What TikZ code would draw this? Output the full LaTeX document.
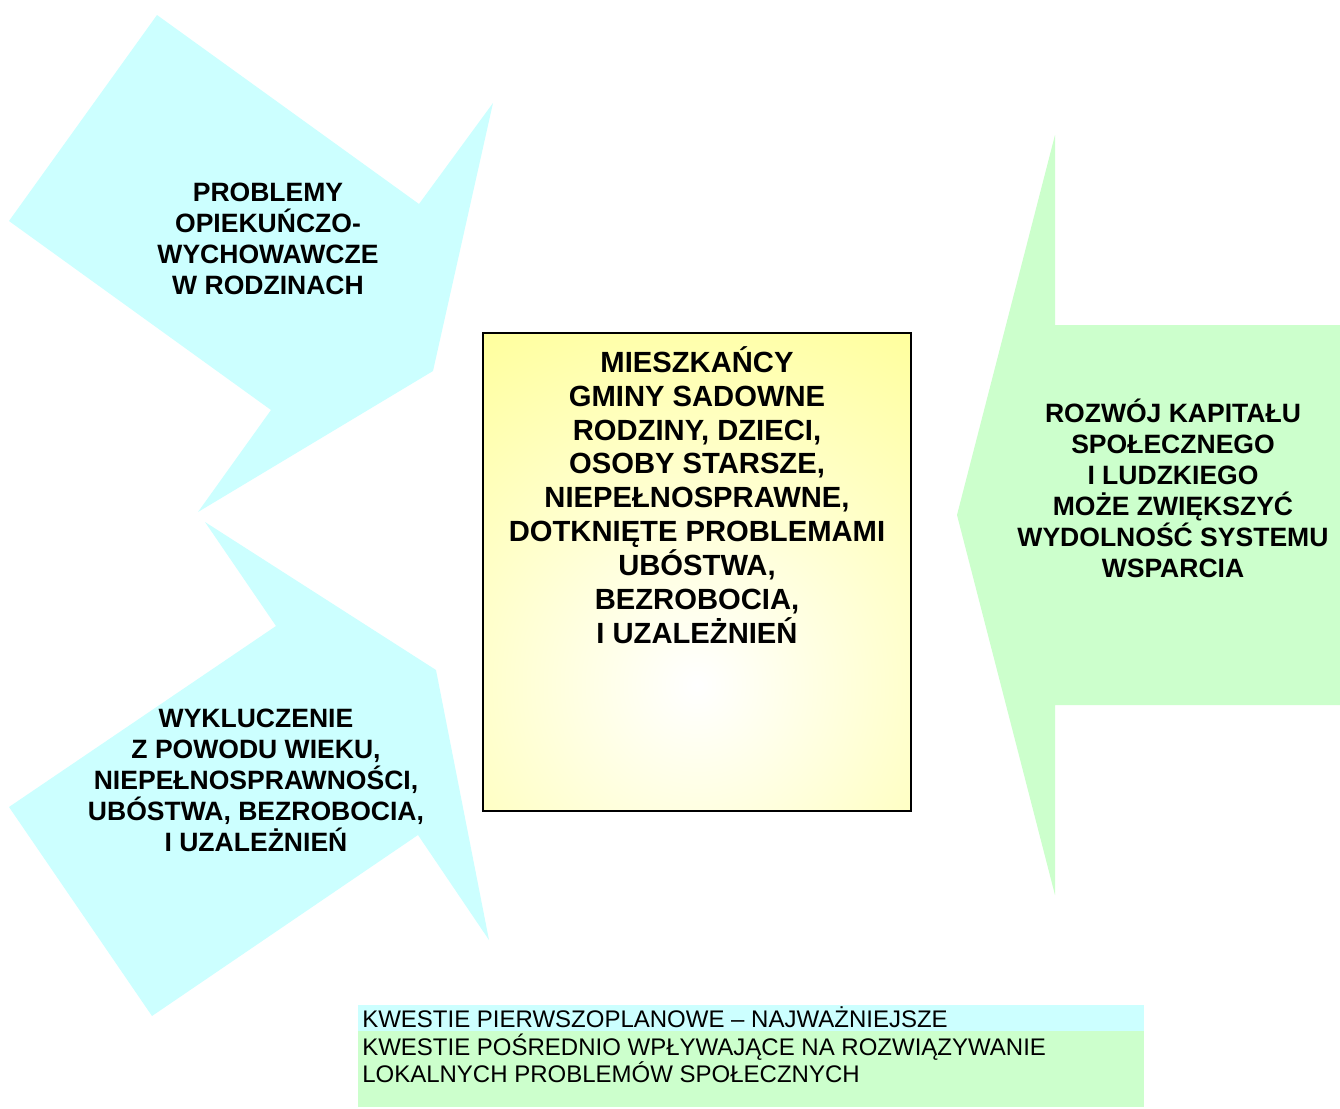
\documentclass[tikz,border=0pt]{standalone}
\usepackage{fontspec}
\setmainfont{Liberation Sans}
\definecolor{cyanfill}{HTML}{CCFFFF}
\definecolor{greenfill}{HTML}{CCFFCC}
\definecolor{yellowfill}{HTML}{FFFF99}
\tikzset{
  arrowshape/.style={draw=none},
  bigtext/.style={align=center, inner sep=0pt, font=\fontsize{19.9}{23.25}\selectfont\bfseries},
  centertext/.style={align=center, inner sep=0pt, font=\fontsize{21.9}{25.4}\selectfont\bfseries},
  legendtext/.style={anchor=base west, inner sep=0pt, font=\fontsize{18}{20.6}\selectfont, align=left},
}
\begin{document}
\begin{tikzpicture}[x=0.75pt,y=-0.75pt]
\useasboundingbox (0,0) rectangle (1340,1108);
\fill[white] (0,0) rectangle (1340,1108);
% top-left arrow
\fill[cyanfill, arrowshape] (157,15) -- (419,204) -- (493,103) -- (433,371) -- (198,512) -- (271,410) -- (9,221) -- cycle;
% bottom-left arrow
\fill[cyanfill, arrowshape] (205,522) -- (436,670) -- (489,940) -- (418,835) -- (152,1016) -- (9,807) -- (276,626) -- cycle;
% right arrow
\fill[greenfill, arrowshape] (957,515) -- (1055,135) -- (1055,325) -- (1340,325) -- (1340,705) -- (1055,705) -- (1055,895) -- cycle;
% center box
\fill[yellowfill] (483,333) rectangle (911,811);
\begin{scope}
\clip (483,333) rectangle (911,811);
\shade[inner color=white, outer color=yellowfill] (697,685) circle[radius=430];
\end{scope}
\draw[black, line width=1.1pt] (483,333) rectangle (911,811);
% texts
\node[bigtext] (t1) at (268,239) {PROBLEMY\\OPIEKUŃCZO-\\WYCHOWAWCZE\\W RODZINACH};
\node[bigtext] (t2) at (256,780) {WYKLUCZENIE\\Z POWODU WIEKU,\\NIEPEŁNOSPRAWNOŚCI,\\UBÓSTWA, BEZROBOCIA,\\I UZALEŻNIEŃ};
\node[bigtext] (t3) at (1173,488) {ROZWÓJ KAPITAŁU\\SPOŁECZNEGO\\I LUDZKIEGO\\MOŻE ZWIĘKSZYĆ\\WYDOLNOŚĆ SYSTEMU\\WSPARCIA};
\node[centertext] (tc) at (697,495) {MIESZKAŃCY\\GMINY SADOWNE\\RODZINY, DZIECI,\\OSOBY STARSZE,\\NIEPEŁNOSPRAWNE,\\DOTKNIĘTE PROBLEMAMI\\UBÓSTWA,\\BEZROBOCIA,\\I UZALEŻNIEŃ};
% legend
\fill[cyanfill] (358,1005) rectangle (1144,1031);
\fill[greenfill] (358,1031) rectangle (1144,1107);
\node[legendtext] (l1) at (362,1027) {KWESTIE PIERWSZOPLANOWE – NAJWAŻNIEJSZE};
\node[legendtext] (l2) at (362,1055) {KWESTIE POŚREDNIO WPŁYWAJĄCE NA ROZWIĄZYWANIE};
\node[legendtext] (l3) at (362,1082) {LOKALNYCH PROBLEMÓW SPOŁECZNYCH};
\end{tikzpicture}
\end{document}
